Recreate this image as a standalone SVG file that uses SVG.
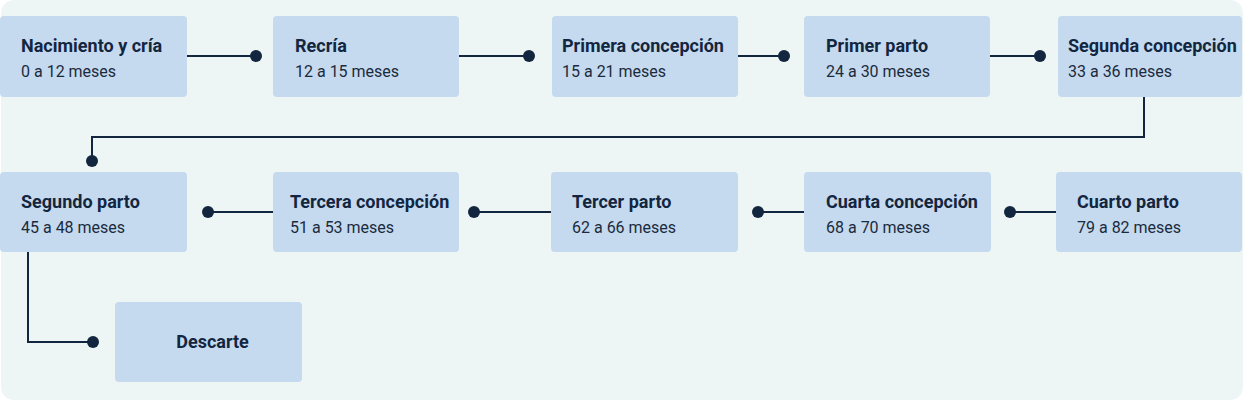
<svg xmlns="http://www.w3.org/2000/svg" width="1245" height="400" viewBox="0 0 1245 400">
<style>
.node rect{fill:#c5daef;}
.t{font-family:Roboto,"Liberation Sans",sans-serif;font-size:18px;font-weight:700;fill:#13263f;}
.s{font-family:Roboto,"Liberation Sans",sans-serif;font-size:16px;font-weight:400;fill:#1b2a3d;}
.edges path{fill:none;stroke:#13263f;stroke-width:2;}
.edges circle{fill:#13263f;}
</style>
<rect x="1" y="0" width="1242" height="400" rx="13" fill="#eef6f5"/>
<g class="edges" id="connectors">
<path d="M187 56H256"/><circle cx="256" cy="56" r="6"/>
<path d="M459 56H529"/><circle cx="529" cy="56" r="6"/>
<path d="M738 56H784"/><circle cx="784" cy="56" r="6"/>
<path d="M990 56H1040"/><circle cx="1040" cy="56" r="6"/>
<path d="M1144 97V137H92V161"/><circle cx="92" cy="161" r="6"/>
<path d="M273 212H208"/><circle cx="208" cy="212" r="6"/>
<path d="M551 212H474"/><circle cx="474" cy="212" r="6"/>
<path d="M804 212H758"/><circle cx="758" cy="212" r="6"/>
<path d="M1056 212H1010"/><circle cx="1010" cy="212" r="6"/>
<path d="M28 252V342H93"/><circle cx="93" cy="342" r="6"/>
</g>
<g class="node" id="n1"><rect x="0" y="16" width="187" height="81" rx="4"/><text class="t" x="21" y="52">Nacimiento y cría</text><text class="s" x="21" y="77">0 a 12 meses</text></g>
<g class="node" id="n2"><rect x="273" y="16" width="186" height="81" rx="4"/><text class="t" x="295" y="52">Recría</text><text class="s" x="295" y="77">12 a 15 meses</text></g>
<g class="node" id="n3"><rect x="552" y="16" width="186" height="81" rx="4"/><text class="t" x="562" y="52">Primera concepción</text><text class="s" x="562" y="77">15 a 21 meses</text></g>
<g class="node" id="n4"><rect x="804" y="16" width="186" height="81" rx="4"/><text class="t" x="826" y="52">Primer parto</text><text class="s" x="826" y="77">24 a 30 meses</text></g>
<g class="node" id="n5"><rect x="1058" y="16" width="184" height="81" rx="4"/><text class="t" x="1068" y="52">Segunda concepción</text><text class="s" x="1068" y="77">33 a 36 meses</text></g>
<g class="node" id="n6"><rect x="0" y="172" width="187" height="80" rx="4"/><text class="t" x="21" y="208">Segundo parto</text><text class="s" x="21" y="233">45 a 48 meses</text></g>
<g class="node" id="n7"><rect x="273" y="172" width="186" height="80" rx="4"/><text class="t" x="290" y="208">Tercera concepción</text><text class="s" x="290" y="233">51 a 53 meses</text></g>
<g class="node" id="n8"><rect x="551" y="172" width="187" height="80" rx="4"/><text class="t" x="572" y="208">Tercer parto</text><text class="s" x="572" y="233">62 a 66 meses</text></g>
<g class="node" id="n9"><rect x="804" y="172" width="187" height="80" rx="4"/><text class="t" x="826" y="208">Cuarta concepción</text><text class="s" x="826" y="233">68 a 70 meses</text></g>
<g class="node" id="n10"><rect x="1056" y="172" width="186" height="80" rx="4"/><text class="t" x="1077" y="208">Cuarto parto</text><text class="s" x="1077" y="233">79 a 82 meses</text></g>
<g class="node" id="n11"><rect x="115" y="302" width="187" height="80" rx="4"/><text class="t" x="212.5" y="348" text-anchor="middle">Descarte</text></g>
</svg>
